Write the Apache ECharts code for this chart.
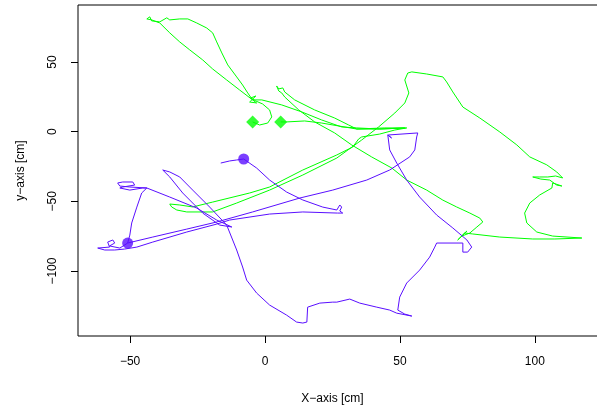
<!DOCTYPE html>
<html><head><meta charset="utf-8">
<script src="https://cdn.jsdelivr.net/npm/echarts@6/dist/echarts.min.js"></script>
<style>html,body{margin:0;padding:0;background:#fff}#c{width:597px;height:410px}</style>
</head><body><div id="c"></div>
<script>
const xTicks = [-50, 0, 50, 100];
const yTicks = [-100, -50, 0, 50];
const xTitle = 'X\u2212axis [cm]';
const yTitle = 'y\u2212axis [cm]';

const greenMarks = [[-4.6, 7.0], [5.8, 7.0]];
const purpleMarks = [[-7.9, -19.6], [-50.9, -79.9]];

const greenTrack = [
[-4.6,7.0],[-2.0,4.8],[1.0,6.2],[2.5,10.6],[1.7,15.6],[-0.9,19.9],[-3.4,22.0],
[-5.3,24.2],[-3.4,25.6],[-5.7,21.3],[-3.1,20.6],[-4.6,22.8],
[-9.4,29.9],[-14.2,37.1],[-19.4,45.0],[-23.1,51.5],[-27.9,58.7],[-31.6,64.4],[-35.3,70.9],[-39.0,78.0],[-42.0,80.2],
[-43.8,80.9],[-42.7,82.4],[-42.0,79.5],[-39.0,78.8],[-36.4,81.7],[-35.3,80.2],[-31.6,80.9],[-28.6,80.9],
[-25.3,78.0],[-21.6,74.4],[-19.4,70.9],[-17.9,64.4],[-16.0,56.5],[-13.8,47.9],[-10.5,39.3],[-8.3,33.5],[-6.4,27.8],[-4.6,22.8],
[-1.2,22.8],[6.2,19.2],[13.6,14.2],[21.0,8.4],[28.4,3.4],[34.0,2.7],[42.5,1.9],[52.5,2.7],
[48.1,1.2],[42.5,-1.7],[35.8,-3.8],[34.7,-5.2],[32.5,-11.0],[26.6,-16.7],[14.0,-27.5],[1.7,-39.7],[-5.7,-44.0],
[-19.4,-50.5],[-26.8,-54.0],[-31.6,-52.6],[-35.3,-51.9],[-34.6,-54.0],[-32.7,-56.2],[-29.0,-57.6],[-19.4,-57.6],
[-10.5,-51.2],[1.7,-41.9],[14.0,-31.1],[26.6,-18.9],[35.8,-6.0],[42.1,3.4],[48.1,13.4],[51.8,20.6],[53.3,27.8],[51.8,37.1],[52.9,42.1],
[54.4,42.9],[59.9,41.4],[65.9,39.3],[67.3,35.7],[69.6,28.5],[73.3,17.7],[79.6,9.8],[87.0,-0.2],[93.3,-9.5],[98.1,-18.1],[104.4,-23.8],[108.1,-28.9],[110.3,-33.2],
[107.7,-31.8],[104.8,-32.5],[101.8,-32.5],[99.2,-32.5],[102.2,-34.0],[105.5,-34.7],[108.1,-38.3],[110.0,-39.0],[106.6,-36.8],
[106.3,-40.4],[101.8,-45.4],[98.1,-51.2],[96.2,-58.4],[97.0,-65.5],[100.7,-72.0],[106.6,-74.9],[117.4,-76.3],
[107.4,-77.0],[99.2,-77.0],[87.0,-75.6],[77.0,-73.4],[74.0,-72.7],
[71.4,-77.7],[74.8,-71.3],[72.9,-74.9],[75.9,-72.7],[78.5,-68.4],[80.7,-64.8],[79.6,-62.0],[75.9,-58.4],[71.0,-54.0],[65.9,-49.1],
[59.9,-41.9],[52.5,-34.7],[47.0,-26.1],[39.5,-18.1],[32.1,-9.5],[25.8,-0.9],[18.4,7.0],[12.5,15.6],[7.3,24.9],[6.2,27.8],
[5.1,29.2],[4.3,32.8],[5.1,30.7],[6.6,31.4],[7.3,28.5],
[11.0,22.8],[18.4,15.6],[25.8,9.8],[31.0,4.8],[34.0,1.9],[42.5,1.9],[51.8,2.7],[44.4,2.7],[34.0,1.9],
[27.3,4.1],[21.0,6.2],[14.7,7.7],[8.0,7.0],[5.8,7.0]
];

const purpleTrack = [
[-16.4,-22.5],[-13.1,-21.0],[-10.5,-20.3],[-7.9,-19.6],
[-3.1,-26.1],[1.7,-34.7],[8.0,-43.3],[14.0,-49.0],[21.4,-54.1],[26.6,-56.2],[27.7,-52.6],[28.4,-54.1],[27.7,-56.9],[28.8,-58.4],[26.9,-58.4],
[14.0,-57.6],[1.7,-59.1],[-13.1,-63.4],[-17.9,-66.3],[-29.0,-72.0],[-41.6,-79.2],[-47.5,-82.8],[-52.0,-84.2],[-55.7,-84.9],[-59.4,-84.9],[-62.0,-83.5],
[-61.3,-82.8],[-57.6,-82.8],[-58.3,-79.2],[-56.4,-77.7],[-55.7,-79.9],[-57.6,-82.0],[-53.8,-83.5],[-50.9,-79.9],
[-50.1,-74.2],[-49.4,-65.5],[-47.5,-54.1],[-45.7,-44.0],[-43.8,-40.4],
[-45.3,-40.4],[-50.1,-41.9],[-53.8,-40.4],[-52.7,-39.7],[-48.3,-38.3],[-49.0,-36.1],[-52.7,-36.1],[-54.6,-36.8],[-53.8,-39.0],[-50.1,-39.7],[-43.8,-40.4],
[-35.3,-46.9],[-25.3,-54.8],[-17.9,-63.4],[-12.3,-68.4],
[-16.8,-67.0],[-23.1,-58.4],[-30.5,-44.0],[-35.3,-32.5],[-37.9,-27.5],[-35.3,-28.9],[-31.6,-32.5],[-26.8,-41.9],[-20.5,-54.1],[-14.2,-67.0],
[-10.5,-84.9],[-8.3,-97.1],[-6.8,-106.5],[-3.1,-115.8],[1.7,-124.4],[8.0,-131.6],[11.7,-136.6],[14.0,-137.3],[15.5,-136.6],[15.8,-125.9],
[20.3,-123.0],[25.1,-122.3],[26.6,-122.3],[31.4,-120.1],[35.1,-123.0],[41.4,-125.9],[46.2,-128.0],[48.8,-130.2],[54.4,-132.3],
[51.8,-130.9],[49.2,-128.0],[49.9,-118.7],[52.5,-108.6],[57.3,-99.3],[61.0,-90.0],[62.9,-82.8],[63.6,-79.9],[73.3,-79.9],[73.3,-86.4],
[75.1,-86.4],[76.6,-82.8],[74.8,-77.7],[69.6,-69.1],[63.6,-59.8],[57.3,-46.9],[52.5,-34.7],[48.8,-22.5],[46.2,-13.1],[45.5,-2.4],
[46.9,-4.5],[45.5,-2.4],[56.6,-0.9],[56.2,-3.8],[55.5,-13.1],[53.6,-18.1],[46.2,-27.5],[37.7,-34.7],[25.1,-41.9],[12.9,-47.6],
[-4.6,-57.6],[-17.9,-64.8],[-29.0,-69.9],[-41.6,-75.6],[-50.9,-79.9]
];

const GREEN = '#00ff00';
const PURPLE = '#5a0fff';
const FONT = 'Liberation Sans, Arial, Helvetica, sans-serif';
const minus = v => String(v).replace('-', '\u2212');

const chart = echarts.init(document.getElementById('c'), null, {renderer: 'canvas'});
chart.setOption({
  animation: false,
  backgroundColor: '#fff',
  grid: {left: 78, top: 5, width: 523, height: 331, outerBoundsMode: 'none', containLabel: false,
         show: true, borderColor: '#000', borderWidth: 1, backgroundColor: 'transparent'},
  xAxis: {
    type: 'value', min: -69.3, max: 124.5,
    name: xTitle, nameLocation: 'middle', nameGap: 57,
    nameTextStyle: {fontFamily: FONT, fontSize: 12, color: '#000', padding: [0, 14, 0, 0]},
    axisLine: {show: false, onZero: false},
    splitLine: {show: false},
    axisTick: {show: true, inside: false, length: 7, customValues: xTicks, lineStyle: {color: '#000', width: 1}},
    axisLabel: {customValues: xTicks, margin: 20, fontFamily: FONT, fontSize: 12, color: '#000', formatter: minus}
  },
  yAxis: {
    type: 'value', min: -146.6, max: 90.9,
    name: yTitle, nameLocation: 'middle', nameGap: 51,
    nameTextStyle: {fontFamily: FONT, fontSize: 12, color: '#000'},
    axisLine: {show: false, onZero: false},
    splitLine: {show: false},
    axisTick: {show: true, inside: false, length: 7, customValues: yTicks, lineStyle: {color: '#000', width: 1}},
    axisLabel: {customValues: yTicks, margin: 19, rotate: 90, fontFamily: FONT, fontSize: 12, color: '#000', formatter: minus}
  },
  series: [
    {type: 'line', data: greenTrack, showSymbol: false, symbol: 'none', lineStyle: {color: GREEN, width: 1}, silent: true, z: 2},
    {type: 'line', data: purpleTrack, showSymbol: false, symbol: 'none', lineStyle: {color: PURPLE, width: 1}, silent: true, z: 3},
    {type: 'scatter', data: greenMarks, symbol: 'diamond', symbolSize: [13, 13], itemStyle: {color: GREEN}, silent: true, z: 4},
    {type: 'scatter', data: purpleMarks, symbol: 'circle', symbolSize: 11, itemStyle: {color: PURPLE}, silent: true, z: 4}
  ]
});
</script></body></html>
